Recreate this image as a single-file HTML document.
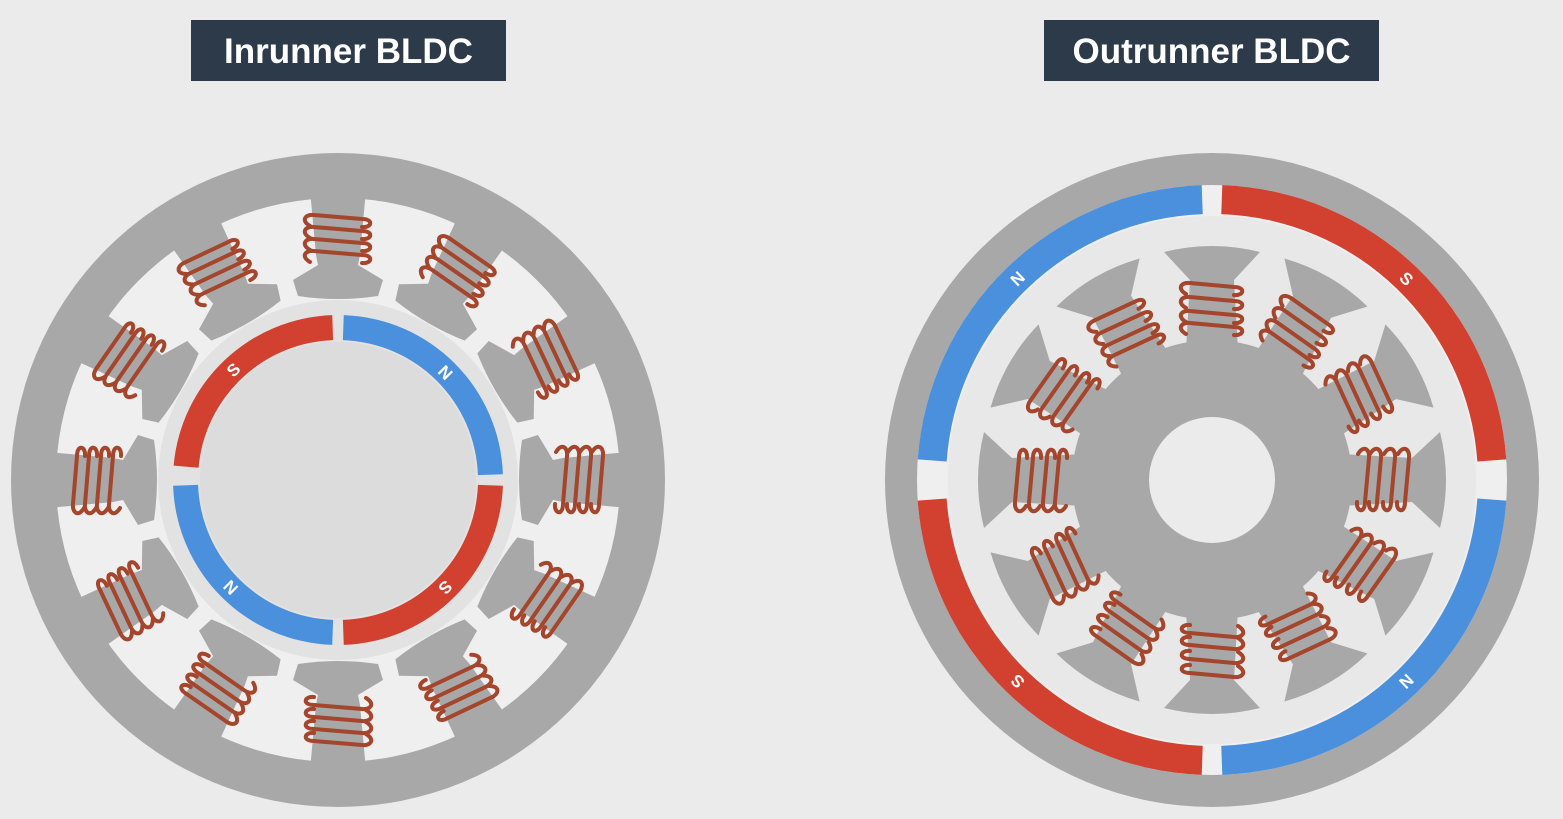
<!DOCTYPE html>
<html><head><meta charset="utf-8"><style>
html,body{margin:0;padding:0;background:#ebebeb;}
svg{display:block;}
text{font-family:"Liberation Sans",sans-serif;font-weight:bold;}
</style></head><body>
<svg id="s" width="1563" height="819" viewBox="0 0 1563 819">
<rect width="1563" height="819" fill="#ebebeb"/>
<g>
<rect x="191" y="20" width="315" height="61" fill="#2c3a49"/>
<text x="348.5" y="63" fill="#fff" font-size="35" text-anchor="middle">Inrunner BLDC</text></g>
<g>
<rect x="1044" y="20" width="335" height="61" fill="#2c3a49"/>
<text x="1211.5" y="63" fill="#fff" font-size="35" text-anchor="middle">Outrunner BLDC</text></g>
<g id="inr"></g>
<g id="outr"></g>
</svg>
<script>
const toothAngles=[0,30,60,90,120,150,180,210,240,270,300,330];
const inMagnets=[[185,268,'#d2402f','S'],[272,358,'#4a90dc','N'],[2,88,'#d2402f','S'],[92,178,'#4a90dc','N']];
const outMagnets=[[184,268,'#4a90dc','N'],[272,356,'#d2402f','S'],[4,88,'#4a90dc','N'],[92,176,'#d2402f','S']];
const NS='http://www.w3.org/2000/svg';
function el(p,t,a){const e=document.createElementNS(NS,t);for(const k in a)e.setAttribute(k,a[k]);p.appendChild(e);return e;}
function pt(cx,cy,r,a){const t=a*Math.PI/180;return [cx+r*Math.cos(t),cy+r*Math.sin(t)];}
function arc(cx,cy,r1,r2,a1,a2){const p1=pt(cx,cy,r2,a1),p2=pt(cx,cy,r2,a2),p3=pt(cx,cy,r1,a2),p4=pt(cx,cy,r1,a1);const l=((a2-a1+360)%360)>180?1:0;
return `M${p1}A${r2},${r2} 0 ${l} 1 ${p2}L${p3}A${r1},${r1} 0 ${l} 0 ${p4}Z`;}
function coil(g,rs,hw){ // local coords: radial outward = -y
 rs.forEach((r,i)=>{const c=el(g,'path',{d:`M${-hw-4},${-r+4} C${-hw-14},${-r-2} ${-hw-8},${-r-8} ${-hw},${-r-7} L${hw},${-r-3} C${hw+12},${-r-3} ${hw+10},${-r+6} ${hw},${-r+5}`,fill:'none',stroke:'#a4452c','stroke-width':4,'stroke-linecap':'round'});
 });
}
// Inrunner
(function(){const g=document.getElementById('inr'),cx=338,cy=480;
 let c=el(g,'circle',{cx,cy,r:327,fill:'#a8a8a8'});
 c=el(g,'circle',{cx,cy,r:282,fill:'#efefef'});
 c=el(g,'circle',{cx,cy,r:180,fill:'#e2e2e2'});
 toothAngles.forEach(a=>{const t=el(g,'g',{transform:`translate(${cx},${cy}) rotate(${a+90})`});
  
  el(t,'path',{d:'M-28,-290 L-22,-225 L-20,-215 L-45,-200 Q0,-190 45,-200 L20,-215 L22,-225 L28,-290 Z'.replace('Q0,-190','L-40,-184 Q0,-178 40,-184 L45,-200').replace('L45,-200 L45,-200','L45,-200'),fill:'#a8a8a8'});
  coil(t,[258,246,234,222],24);});
 inMagnets.forEach(m=>{const p=el(g,'path',{d:arc(cx,cy,140,165,m[0],m[1]),fill:m[2]});
  
  const mid=(m[0]+m[1])/2,q=pt(cx,cy,152,mid);const t=el(g,'text',{x:q[0],y:q[1]+6,fill:'#fff','font-size':17,'text-anchor':'middle',transform:`rotate(${mid+90} ${q[0]} ${q[1]})`});t.textContent=m[3];
  });
 c=el(g,'circle',{cx,cy,r:138,fill:'#dcdcdc'});
})();
// Outrunner
(function(){const g=document.getElementById('outr'),cx=1212,cy=480;
 let c=el(g,'circle',{cx,cy,r:327,fill:'#a8a8a8'});
 c=el(g,'circle',{cx,cy,r:295,fill:'#efefef'});
 outMagnets.forEach(m=>{const p=el(g,'path',{d:arc(cx,cy,266,295,m[0],m[1]),fill:m[2]});
  
  const mid=(m[0]+m[1])/2,q=pt(cx,cy,280,mid);const t=el(g,'text',{x:q[0],y:q[1]+6,fill:'#fff','font-size':17,'text-anchor':'middle',transform:`rotate(${mid+90} ${q[0]} ${q[1]})`});t.textContent=m[3];
  });
 c=el(g,'circle',{cx,cy,r:264,fill:'#e8e8e8'});
 c=el(g,'circle',{cx,cy,r:140,fill:'#a8a8a8'});
 toothAngles.forEach(a=>{const t=el(g,'g',{transform:`translate(${cx},${cy}) rotate(${a+90})`});
  
  el(t,'path',{d:'M-26,-130 L-22,-200 L-48,-228 Q0,-240 48,-228 L22,-200 L26,-130 Z',fill:'#a8a8a8'});
  coil(t,[190,176,162,150],22);});
 c=el(g,'circle',{cx,cy,r:63,fill:'#ebebeb'});
})();
</script>
</body></html>
